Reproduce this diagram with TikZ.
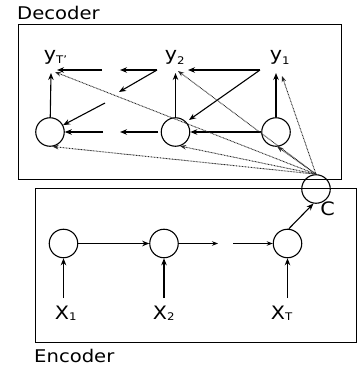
\documentclass[tikz,border=0pt]{standalone}
\usepackage{fontspec}
\setmainfont[FakeStretch=1.12]{DejaVu Sans}
\usetikzlibrary{arrows.meta}
\newcommand\mysub[2]{\rlap{\raisebox{-#1}{\fontsize{10.5}{10.5}\selectfont #2}}}
\begin{document}
\begin{tikzpicture}[x=1pt,y=-1pt,
  state/.style={circle,draw,line width=1.1pt,minimum size=28.5pt,inner sep=0pt},
  arr/.style={line width=1.1pt,-{Stealth[length=7pt,width=5.5pt]}},
  thickarr/.style={line width=1.5pt,-{Stealth[length=7pt,width=5.5pt]}},
  thinarr/.style={line width=0.8pt,-{Stealth[length=6pt,width=4.5pt]}},
  att/.style={line width=0.9pt,black!85,dash pattern=on 0.8pt off 0.7pt,-{Stealth[length=6pt,width=4.5pt]}},
  box/.style={draw,line width=1pt},
  lab/.style={font=\fontsize{18.5}{18.5}\selectfont,anchor=base,inner sep=0pt},
  title/.style={font=\fontsize{17.5}{17.5}\selectfont,anchor=base west,inner sep=0pt},
]
\useasboundingbox (0,0) rectangle (357,366);
% boxes
\draw[box] (18,25) rectangle (341,179);
\draw[box] (35,188) rectangle (356,342);
\node[title] (dec) at (17,20) {Decoder};
\node[title] (enc) at (34,362) {Encoder};
% decoder states
\node[state] (d3) at (50,132) {};
\node[state] (d2) at (175.5,132) {};
\node[state] (d1) at (276,132) {};
\node[lab] (y3) at (50,61) {y\mysub{3pt}{T'}};
\node[lab] (y2) at (171,61) {y\mysub{4pt}{2}};
\node[lab] (y1) at (276,61) {y\mysub{4pt}{1}};
% encoder states
\node[state] (e1) at (63.5,243.5) {};
\node[state] (e2) at (164,243.5) {};
\node[state] (e3) at (287.5,243.5) {};
\node[state] (c) at (316,189) {};
\node[lab] (x1) at (62,319.5) {X\mysub{1pt}{1}};
\node[lab] (x2) at (160,319.5) {X\mysub{1pt}{2}};
\node[lab] (x3) at (278,319.5) {X\mysub{1pt}{T}};
\node[lab] (cl) at (327.5,215.5) {C};
% free ends
\coordinate (u3) at (51,73);
\coordinate (u2) at (175.5,73);
\coordinate (u1) at (276,73);
\coordinate (t1) at (260,70);
\coordinate (t2) at (188,70);
\coordinate (t3) at (157,70);
\coordinate (t4) at (120,70);
\coordinate (t5) at (102,70);
\coordinate (t6) at (57,70);
\coordinate (g1) at (189,120);
\coordinate (g2) at (119,92);
\coordinate (g3) at (105,103);
\coordinate (b1) at (158,132);
\coordinate (b2) at (120,132);
\coordinate (b3) at (103,132);
\coordinate (v1) at (63.5,298);
\coordinate (v2) at (164,298);
\coordinate (v3) at (287.5,298);
\coordinate (m1) at (218,243.5);
\coordinate (m2) at (233,243.5);
\coordinate (a3) at (55,72);
\coordinate (a2) at (178,71);
\coordinate (a1) at (282,76);
% decoder connectors
\draw[arr] (d3) -- (u3);
\draw[arr] (d2) -- (u2);
\draw[arr] (d1) -- (u1);
\draw[arr] (t1) -- (t2);
\draw[arr] (t3) -- (t4);
\draw[arr] (t5) -- (t6);
\draw[arr] (t1) -- (g1);
\draw[arr] (t3) -- (g2);
\draw[arr] (g3) -- (d3);
\draw[arr] (d1) -- (d2);
\draw[arr] (b1) -- (b2);
\draw[arr] (b3) -- (d3);
% encoder connectors
\draw[arr] (v1) -- (e1);
\draw[arr] (v2) -- (e2);
\draw[arr] (v3) -- (e3);
\draw[thickarr] (e1) -- (e2);
\draw[thinarr] (e2) -- (m1);
\draw[thinarr] (m2) -- (e3);
\draw[arr] (e3.85) -- (c.-100);
% attention (dotted)
\draw[att] (c.north) -- (a3);
\draw[att] (c.north) -- (d3.-80);
\draw[att] (c.north) -- (a2);
\draw[att] (c.north) -- (d2.-72);
\draw[att] (c.north) -- (a1);
\draw[att] (c.north) -- (d1.-85);
\end{tikzpicture}
\end{document}
